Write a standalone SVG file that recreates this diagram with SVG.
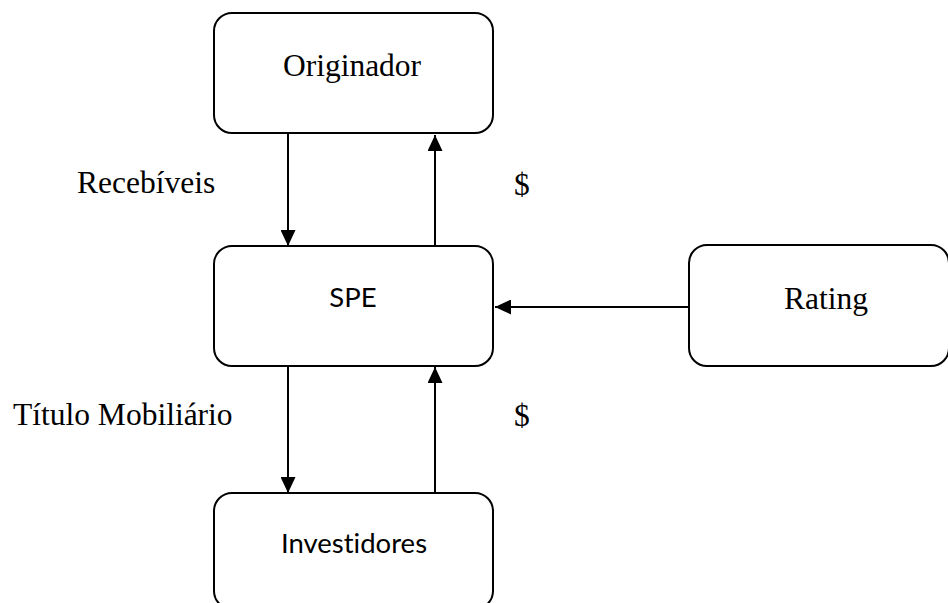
<svg xmlns="http://www.w3.org/2000/svg" width="948" height="603" viewBox="0 0 948 603">
<style>
.box{fill:#fff;stroke:#000;stroke-width:2}
.ln{stroke:#000;stroke-width:2;fill:none}
.serif{font-family:"Liberation Serif","Times New Roman",serif;font-size:31.5px;fill:#000}
.sans{font-family:Lato,"Open Sans",sans-serif;font-size:27.5px;fill:#000;font-variant-ligatures:none;font-feature-settings:"liga" 0}
</style>
<defs>
<marker id="ah" viewBox="0 0 16 15" refX="16" refY="7.5" markerWidth="16" markerHeight="15" markerUnits="userSpaceOnUse" orient="auto">
<path d="M0,0 L16,7.5 L0,15 z" fill="#000"/>
</marker>
</defs>
<rect width="948" height="603" fill="#fff"/>
<g id="connectors">
<line class="ln" x1="288" y1="133" x2="288" y2="246" marker-end="url(#ah)"/>
<line class="ln" x1="435" y1="246" x2="435" y2="135" marker-end="url(#ah)"/>
<line class="ln" x1="689" y1="307" x2="495" y2="307" marker-end="url(#ah)"/>
<line class="ln" x1="288" y1="366" x2="288" y2="493" marker-end="url(#ah)"/>
<line class="ln" x1="435" y1="493" x2="435" y2="367" marker-end="url(#ah)"/>
</g>
<g id="originador">
<rect class="box" x="214" y="13" width="279" height="120" rx="18"/>
<text class="serif" x="352" y="76" text-anchor="middle">Originador</text>
</g>
<g id="spe">
<rect class="box" x="214" y="246" width="279" height="120" rx="18"/>
<text class="sans" x="353" y="307" text-anchor="middle">SPE</text>
</g>
<g id="rating">
<rect class="box" x="689" y="245" width="260" height="121" rx="18"/>
<text class="serif" x="826" y="309" text-anchor="middle">Rating</text>
</g>
<g id="investidores">
<rect class="box" x="214" y="493" width="279" height="116" rx="18"/>
<text class="sans" x="354" y="553" text-anchor="middle">Investidores</text>
</g>
<g id="labels">
<text class="serif" x="77" y="193">Recebíveis</text>
<text class="serif" x="514" y="195">$</text>
<text class="serif" x="13" y="425">Título Mobiliário</text>
<text class="serif" x="514" y="426">$</text>
</g>
</svg>
